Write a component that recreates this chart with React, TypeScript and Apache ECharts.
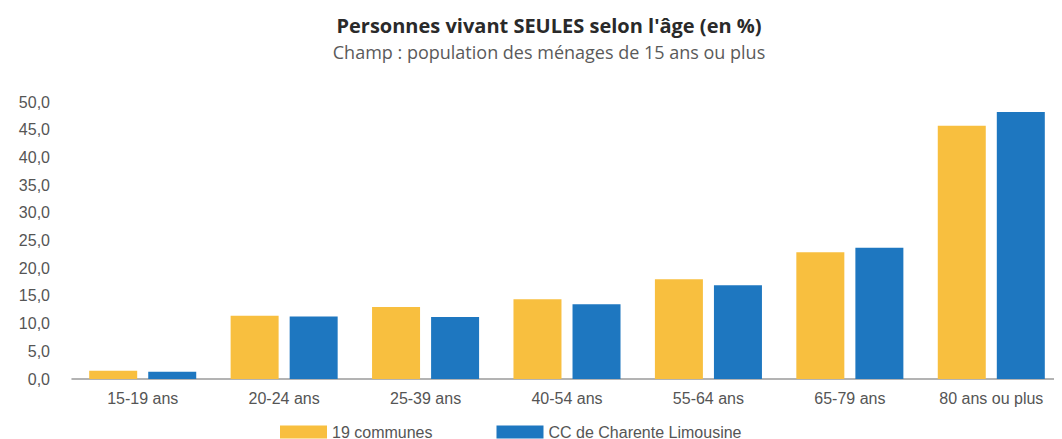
import React, { useEffect, useRef } from "react";
import * as echarts from "echarts";

const categories = ["15-19 ans", "20-24 ans", "25-39 ans", "40-54 ans", "55-64 ans", "65-79 ans", "80 ans ou plus"];
const communes19 = [1.5, 11.4, 13.0, 14.4, 18.0, 22.9, 45.7];
const ccCharente = [1.3, 11.3, 11.2, 13.5, 16.9, 23.7, 48.2];
const seriesNames = ["19 communes", "CC de Charente Limousine"];
const titleText = "Personnes vivant SEULES selon l'âge (en %)";
const subtitleText = "Champ : population des ménages de 15 ans ou plus";

export default function App() {
  const ref = useRef<HTMLDivElement>(null);
  useEffect(() => {
    if (!ref.current) return;
    const chart = echarts.init(ref.current, null, { renderer: "svg" });
    chart.setOption({
      animation: false,
      backgroundColor: "#ffffff",
      title: {
        text: titleText,
        subtext: subtitleText,
        left: 544,
        textAlign: "center",
        top: 10,
        itemGap: 8,
        textStyle: { fontFamily: "Open Sans", fontWeight: "bold", fontSize: 20, color: "#2a2a2a" },
        subtextStyle: { fontFamily: "Open Sans", fontSize: 18, color: "#5a5a5a" },
      },
      legend: {
        left: 275,
        top: 419,
        itemWidth: 47,
        itemHeight: 13,
        itemGap: 64,
        icon: "rect",
        textStyle: { fontFamily: "Liberation Sans", fontSize: 16, lineHeight: 16, color: "#555555" },
        data: seriesNames,
      },
      grid: { left: 72, right: 0, top: 102, bottom: 60 },
      xAxis: {
        type: "category",
        data: categories,
        axisTick: { show: false },
        axisLine: { lineStyle: { color: "#9a9a9a", width: 1.5 } },
        axisLabel: { interval: 0, fontFamily: "Liberation Sans", fontSize: 16, color: "#555555", margin: 11 },
      },
      yAxis: {
        type: "value",
        min: 0,
        max: 50,
        interval: 5,
        splitLine: { show: false },
        axisLine: { show: false },
        axisTick: { show: false },
        axisLabel: {
          fontFamily: "Liberation Sans",
          fontSize: 16,
          color: "#555555",
          margin: 22,
          formatter: (v: number) => v.toFixed(1).replace(".", ","),
        },
      },
      series: [
        {
          name: seriesNames[0],
          type: "bar",
          data: communes19,
          barWidth: 48,
          barGap: "23%",
          itemStyle: { color: "#F8BF3F" },
        },
        {
          name: seriesNames[1],
          type: "bar",
          data: ccCharente,
          barWidth: 48,
          barGap: "23%",
          itemStyle: { color: "#1E77C0" },
        },
      ],
    });
    return () => chart.dispose();
  }, []);
  return <div ref={ref} style={{ width: 1062, height: 439, marginLeft: -8, marginTop: -8 }} />;
}
